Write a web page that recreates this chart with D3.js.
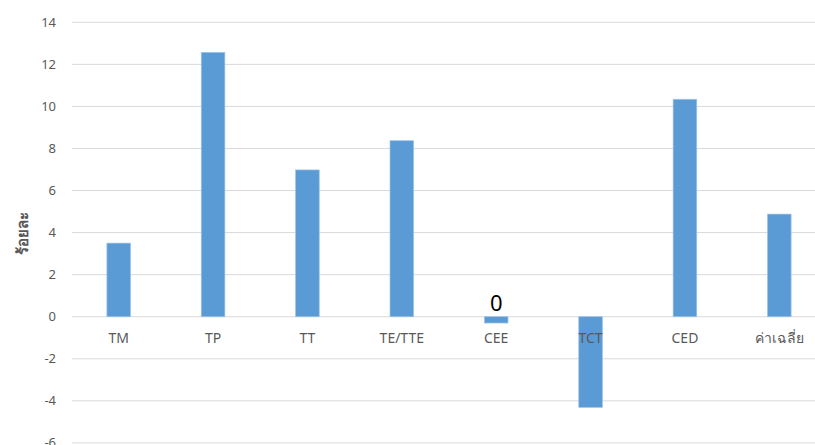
<!DOCTYPE html>
<html>
<head>
<meta charset="utf-8">
<script src="https://cdn.jsdelivr.net/npm/d3@7"></script>
<style>
  body { margin: 0; background: #fff; }
  svg text { font-family: "Noto Sans", "Open Sans", sans-serif; }
</style>
</head>
<body>
<svg id="chart" width="815" height="445"></svg>
<script>
// data
const categories = ["TM", "TP", "TT", "TE/TTE", "CEE", "TCT", "CED", "ค่าเฉลี่ย"];
const values = [3.5, 12.57, 6.98, 8.37, -0.3, -4.31, 10.34, 4.88];
const yTicks = [-6, -4, -2, 0, 2, 4, 6, 8, 10, 12, 14];
const barLabels = [{ cat: "CEE", text: "0" }];

const svg = d3.select("#chart");

const x = d3.scaleBand()
    .domain(categories)
    .range([71.5, 826.5])
    .paddingInner(0.75)
    .paddingOuter(0.375);

const y = d3.scaleLinear()
    .domain([-6, 14])
    .range([442.9, 22.3]);

// gridlines
svg.append("g")
    .selectAll("line")
    .data(yTicks)
    .join("line")
    .attr("x1", 72)
    .attr("x2", 815)
    .attr("y1", d => y(d))
    .attr("y2", d => y(d))
    .attr("stroke", "#d9d9d9")
    .attr("stroke-width", 1);

// y tick labels
svg.append("g")
    .selectAll("text")
    .data(yTicks)
    .join("text")
    .attr("x", 56)
    .attr("y", d => y(d))
    .attr("dy", "0.35em")
    .attr("text-anchor", "end")
    .attr("font-size", 13)
    .attr("fill", "#595959")
    .text(d => d);

// y axis title
svg.append("text")
    .attr("transform", "translate(23,233) rotate(-90)")
    .attr("text-anchor", "middle")
    .attr("dy", "0.35em")
    .attr("font-size", 15)
    .attr("font-weight", "bold")
    .attr("fill", "#595959")
    .text("ร้อยละ");

// bars
svg.append("g")
    .selectAll("rect")
    .data(categories.map((c, i) => ({ c, v: values[i] })))
    .join("rect")
    .attr("x", d => x(d.c))
    .attr("width", x.bandwidth())
    .attr("y", d => y(Math.max(0, d.v)))
    .attr("height", d => Math.abs(y(d.v) - y(0)))
    .attr("fill", "#5b9bd5")
    .attr("stroke", "#9dc3e6")
    .attr("stroke-width", 0.7);

// category labels (on top of the bars)
svg.append("g")
    .selectAll("text")
    .data(categories)
    .join("text")
    .attr("x", d => x(d) + x.bandwidth() / 2)
    .attr("y", 338)
    .attr("dy", "0.35em")
    .attr("text-anchor", "middle")
    .attr("font-size", 14)
    .attr("fill", "#595959")
    .text(d => d);

// data label
svg.append("g")
    .selectAll("text")
    .data(barLabels)
    .join("text")
    .attr("x", d => x(d.cat) + x.bandwidth() / 2)
    .attr("y", 311)
    .attr("text-anchor", "middle")
    .attr("font-size", 22)
    .attr("fill", "#000")
    .text(d => d.text);
</script>
</body>
</html>
